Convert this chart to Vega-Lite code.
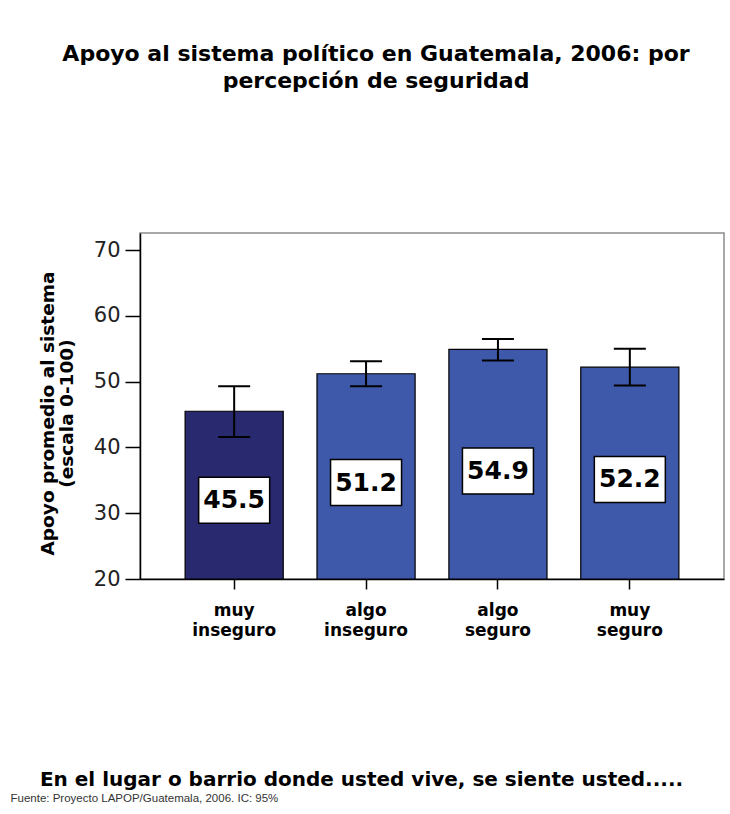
{
  "$schema": "https://vega.github.io/schema/vega-lite/v6.json",
  "width": 584,
  "height": 346,
  "autosize": "none",
  "padding": {"left": 140, "top": 233, "right": 6, "bottom": 235},
  "background": "white",
  "title": {
    "text": ["Apoyo al sistema político en Guatemala, 2006: por", "percepción de seguridad"],
    "font": "DejaVu Sans", "fontSize": 22, "fontWeight": "bold", "lineHeight": 27,
    "anchor": "middle", "frame": "group", "dx": -56, "offset": 140, "color": "black"
  },
  "data": {"values": [
    {"cat": "muy inseguro", "value": 45.5, "lo": 41.6, "hi": 49.3},
    {"cat": "algo inseguro", "value": 51.2, "lo": 49.3, "hi": 53.1},
    {"cat": "algo seguro", "value": 54.9, "lo": 53.2, "hi": 56.5},
    {"cat": "muy seguro", "value": 52.2, "lo": 49.4, "hi": 55.0}
  ]},
  "transform": [{"calculate": "20 + 0.47*(datum.value-20)", "as": "mid"}],
  "encoding": {
    "x": {
      "field": "cat", "type": "nominal",
      "sort": ["muy inseguro", "algo inseguro", "algo seguro", "muy seguro"],
      "scale": {"paddingInner": 0.256, "paddingOuter": 0.342},
      "axis": {
        "title": "En el lugar o barrio donde usted vive, se siente usted.....",
        "titleFont": "DejaVu Sans", "titleFontSize": 20, "titleFontWeight": "bold", "titleColor": "black",
        "titleX": 221, "titleY": 206, "titleBaseline": "alphabetic", "titleAlign": "center",
        "labelAngle": 0, "labelFont": "DejaVu Sans", "labelFontWeight": "bold", "labelFontSize": 17,
        "labelLineHeight": 20, "labelColor": "black", "labelPadding": 13,
        "labelExpr": "split(datum.label, ' ')",
        "tickSize": 10, "tickColor": "black", "tickWidth": 1.5,
        "domainColor": "black", "domainWidth": 1.5
      }
    }
  },
  "layer": [
    {
      "mark": {"type": "bar", "stroke": "black", "strokeWidth": 1.2},
      "encoding": {
        "y": {
          "field": "value", "type": "quantitative",
          "scale": {"domain": [20, 72.6], "nice": false, "zero": false},
          "axis": {
            "values": [20, 30, 40, 50, 60, 70], "grid": false,
            "title": ["Apoyo promedio al sistema", "(escala 0-100)"],
            "titleFont": "DejaVu Sans", "titleFontSize": 18.5, "titleFontWeight": "bold", "titleLineHeight": 19,
            "titleColor": "black", "titleX": -93, "titleY": 180, "titleAlign": "center", "titleBaseline": "middle",
            "titleAngle": 270,
            "labelFont": "DejaVu Sans", "labelFontSize": 21, "labelColor": "#222", "labelPadding": 5,
            "tickSize": 15, "tickColor": "black", "tickWidth": 1.5,
            "domainColor": "black", "domainWidth": 1.5
          }
        },
        "y2": {"datum": 20},
        "color": {
          "field": "cat", "type": "nominal",
          "scale": {"domain": ["muy inseguro", "algo inseguro", "algo seguro", "muy seguro"],
                    "range": ["#29296f", "#3f59aa", "#3f59aa", "#3f59aa"]},
          "legend": null
        }
      }
    },
    {
      "mark": {"type": "rule", "color": "black", "strokeWidth": 2},
      "encoding": {
        "y": {
          "field": "lo", "type": "quantitative",
          "scale": {"domain": [20, 72.6], "nice": false, "zero": false},
          "axis": {
            "orient": "right", "labels": false, "ticks": false, "domain": false, "grid": false,
            "title": "Fuente: Proyecto LAPOP/Guatemala, 2006.  IC: 95%",
            "titleFont": "Liberation Sans", "titleFontSize": 11.5, "titleFontWeight": "normal", "titleColor": "#333",
            "titleAngle": 0, "titleX": -714, "titleY": 568, "titleAlign": "left", "titleBaseline": "alphabetic"
          }
        },
        "y2": {"field": "hi"}
      }
    },
    {
      "mark": {"type": "tick", "color": "black", "size": 32, "thickness": 2, "opacity": 1},
      "encoding": {
        "y": {"field": "lo", "type": "quantitative", "scale": {"domain": [20, 72.6], "nice": false, "zero": false}, "axis": null}
      }
    },
    {
      "mark": {"type": "tick", "color": "black", "size": 32, "thickness": 2, "opacity": 1},
      "encoding": {
        "y": {"field": "hi", "type": "quantitative", "scale": {"domain": [20, 72.6], "nice": false, "zero": false}, "axis": null}
      }
    },
    {
      "mark": {"type": "point", "shape": "M-1,-0.648L1,-0.648L1,0.648L-1,0.648Z", "size": 5041,
               "filled": true, "fill": "white", "stroke": "black", "strokeWidth": 1.5, "opacity": 1},
      "encoding": {
        "y": {"field": "mid", "type": "quantitative", "scale": {"domain": [20, 72.6], "nice": false, "zero": false}, "axis": null}
      }
    },
    {
      "mark": {"type": "text", "font": "DejaVu Sans", "fontSize": 25, "fontWeight": "bold", "color": "black", "baseline": "middle"},
      "encoding": {
        "y": {"field": "mid", "type": "quantitative", "scale": {"domain": [20, 72.6], "nice": false, "zero": false}, "axis": null},
        "text": {"field": "value", "type": "quantitative", "format": ".1f"}
      }
    }
  ],
  "resolve": {"axis": {"y": "independent"}},
  "config": {
    "view": {"stroke": "#8c8c8c", "strokeWidth": 1.5}
  }
}
